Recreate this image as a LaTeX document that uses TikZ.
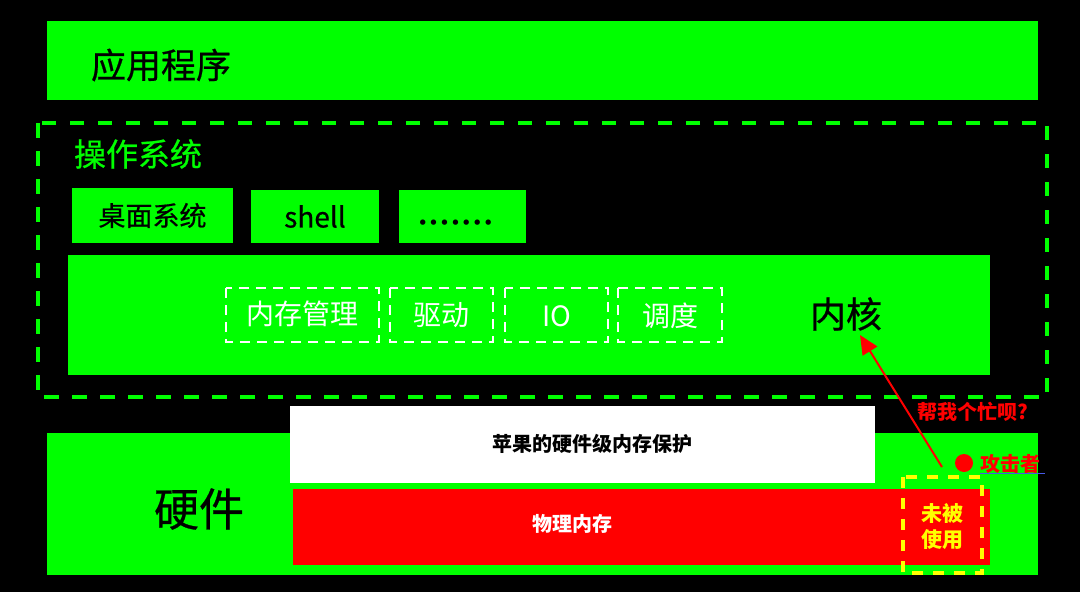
\documentclass[tikz,border=0pt]{standalone}
\usepackage{fontspec}
\setmainfont{Noto Sans CJK SC}
\newfontfamily\med[FakeBold=0.6]{Noto Sans CJK SC}
\newfontfamily\dejavu{DejaVu Sans}
\usetikzlibrary{arrows.meta}
\definecolor{grn}{RGB}{0,255,0}
\definecolor{rd}{RGB}{255,0,0}
\definecolor{yl}{RGB}{255,255,0}
\definecolor{bl}{RGB}{70,90,230}
\newcommand{\fs}[1]{\fontsize{#1}{#1}\selectfont}
\tikzset{
  box/.style={draw=none, inner sep=0pt, outer sep=0pt, rectangle},
  gbox/.style={box, fill=grn},
  wdash/.style={draw=white, line width=2.6pt, dash pattern=on 10pt off 7pt, fill=none},
  txt/.style={inner sep=0pt, outer sep=0pt},
}
\begin{document}
\begin{tikzpicture}[x=1pt,y=-1pt]
\useasboundingbox (0,0) rectangle (1080,592);
\fill[black] (0,0) rectangle (1080,592);
% application
\node[gbox, minimum width=991pt, minimum height=79pt] (app) at (542.5,60.5) {};
\node[txt, anchor=west] (apptxt) at (91,65) {\med\fs{35}应用程序};
% operating system
\draw[grn, line width=3.8pt, dash pattern=on 14.5pt off 13.5pt] (38,123) rectangle (1047,397);
\node[txt, anchor=west, text=grn] (ostxt) at (74,154) {\med\fs{32}操作系统};
\node[gbox, minimum width=161pt, minimum height=55pt] (desk) at (152.5,215.5) {\med\fs{27}桌面系统};
\node[gbox, minimum width=128pt, minimum height=53pt] (shell) at (315,216.5) {\med\fs{28}shell};
\node[gbox, minimum width=127pt, minimum height=53pt] (dots) at (462.5,216.5) {};
\node[txt] (dotstxt) at (455.5,225) {\dejavu\fs{18.5}•••••••};
% kernel
\node[gbox, minimum width=922pt, minimum height=120pt] (kernel) at (529,315) {};
\node[txt] (kerntxt) at (846,314) {\med\fs{36}内核};
\draw[wdash] (226,288) rectangle (379,342);
\node[txt, text=white] (mem) at (302.5,314) {\fs{28}内存管理};
\draw[wdash] (390,288) rectangle (493,342);
\node[txt, text=white] (drv) at (441.5,315) {\fs{28}驱动};
\draw[wdash] (505,288) rectangle (608,342);
\node[txt, text=white] (io) at (556.5,316) {\fs{28}IO};
\draw[wdash] (618,288) rectangle (722,342);
\node[txt, text=white] (sched) at (670,316) {\fs{28}调度};
% hardware
\node[gbox, minimum width=991pt, minimum height=142pt] (hw) at (542.5,504) {};
\node[txt] (hwtxt) at (199,509) {\med\fs{45}硬件};
\node[box, fill=white, minimum width=585pt, minimum height=77pt] (prot) at (582.5,444.5) {};
\node[txt] (prottxt) at (592,444) {\fs{20}\bfseries 苹果的硬件级内存保护};
\node[box, fill=rd, minimum width=697pt, minimum height=76pt] (phys) at (641.5,527) {};
\node[txt, text=white] (phystxt) at (572,524) {\fs{20}\bfseries 物理内存};
\draw[yl, line width=4.6pt, dash pattern=on 11pt off 10pt] (903,477) rectangle (982,573);
\node[txt, text=yl, align=center, font={\fontsize{21}{26}\selectfont\bfseries}] (unused) at (942.5,527) {未被\\使用};
% attacker
\node[circle, fill=rd, minimum size=18pt, inner sep=0pt] (dot) at (964,463) {};
\node[txt, anchor=west, text=rd] (att) at (980,464) {\fs{20}\bfseries 攻击者};
\draw[bl, line width=0.6pt] (980,473) -- (1045,473);
\node[txt, text=rd] (help) at (973,412) {\fs{20}\bfseries 帮我个忙呗?};
\coordinate (astart) at (942,467);
\coordinate (aend) at (860,335);
\draw[rd, line width=2pt, -{Triangle[length=19pt, width=17pt]}] (astart) -- (aend);
\end{tikzpicture}
\end{document}
